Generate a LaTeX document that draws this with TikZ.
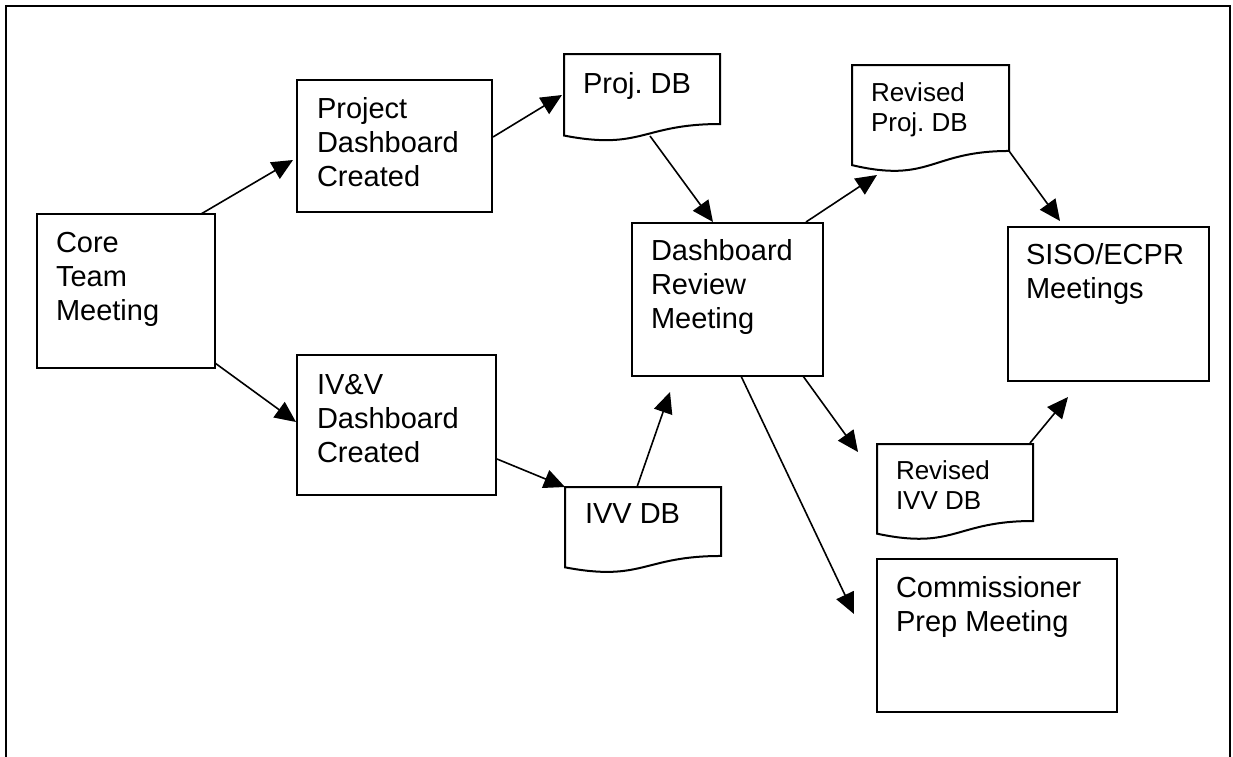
\documentclass[tikz,border=0pt]{standalone}
\usepackage{fontspec}
\setmainfont{Liberation Sans}
\usetikzlibrary{arrows.meta,calc}
\frenchspacing
\begin{document}
\begin{tikzpicture}[x=1pt,y=-1pt,
  box/.style={draw,line width=2pt,inner sep=0pt,outer sep=0pt,anchor=north west},
  docbox/.style={inner sep=0pt,outer sep=0pt,anchor=north west},
  docline/.style={draw,line width=2pt,fill=white,line join=miter},
  txt/.style={inner sep=0pt,outer sep=0pt,anchor=north west,align=left,font=\fontsize{29}{34}\selectfont},
  stxt/.style={inner sep=0pt,outer sep=0pt,anchor=north west,align=left,font=\fontsize{26}{30.5}\selectfont},
  arr/.style={line width=1.6pt,-{Triangle[length=21pt,width=19pt]}}]
\useasboundingbox (0,0) rectangle (1233,756);
% frame
\coordinate (fbl) at (6,760);
\coordinate (ftl) at (6,6);
\coordinate (ftr) at (1230,6);
\coordinate (fbr) at (1230,760);
\draw[line width=2pt] (fbl) -- (ftl) -- (ftr) -- (fbr);
\newcommand{\docpath}[1]{%
  \draw[docline] (#1.north west) -- (#1.north east)
    -- ($(#1.north east)!0.802!(#1.south east)$)
    .. controls ($(#1.north)!0.802!(#1.south)$) and ($(#1.north)!1.107!(#1.south)$)
    .. ($(#1.north west)!0.934!(#1.south west)$) -- cycle;}
% boxes
\node[box,minimum width=178pt,minimum height=154pt] (core) at (37,214) {};
\node[box,minimum width=195pt,minimum height=132pt] (proj) at (297,80) {};
\node[box,minimum width=199pt,minimum height=140pt] (ivv) at (297,355) {};
\node[box,minimum width=191pt,minimum height=153pt] (dash) at (632,223) {};
\node[box,minimum width=201pt,minimum height=154pt] (siso) at (1008,227) {};
\node[box,minimum width=240pt,minimum height=153pt] (comm) at (877,559) {};
% documents
\node[docbox,minimum width=156pt,minimum height=87.3pt] (projdb) at (564,54) {};
\node[docbox,minimum width=157pt,minimum height=107.2pt] (revproj) at (852,65) {};
\node[docbox,minimum width=156pt,minimum height=86pt] (ivvdb) at (565,487) {};
\node[docbox,minimum width=156pt,minimum height=96pt] (revivv) at (877,444) {};
\docpath{projdb}
\docpath{revproj}
\docpath{ivvdb}
\docpath{revivv}
% texts
\node[txt] (coreT) at (56,232) {Core\\Team\\Meeting};
\node[txt] (projT) at (317,97) {Project\\Dashboard\\Created};
\node[txt] (ivvT) at (317,374) {IV\&V\\Dashboard\\Created};
\node[txt] (dashT) at (651,239) {Dashboard\\Review\\Meeting};
\node[txt] (sisoT) at (1026,243) {SISO/ECPR\\Meetings};
\node[txt] (commT) at (896,576) {Commissioner\\Prep Meeting};
\node[txt] (projdbT) at (583,72) {Proj. DB};
\node[stxt] (revprojT) at (871,82.4) {Revised\\Proj. DB};
\node[txt] (ivvdbT) at (585,504) {IVV DB};
\node[stxt] (revivvT) at (896,460.4) {Revised\\IVV DB};
% connector end points
\coordinate (a1s) at (201,214);  \coordinate (a1e) at (293,160);
\coordinate (a2s) at (215,363);  \coordinate (a2e) at (296,422);
\coordinate (a3s) at (493,137);  \coordinate (a3e) at (562,95);
\coordinate (a4s) at (497,459);  \coordinate (a4e) at (565,487);
\coordinate (a5s) at (650,136);  \coordinate (a5e) at (713,222);
\coordinate (a6s) at (637,487);  \coordinate (a6e) at (670,392);
\coordinate (a7s) at (806,222);  \coordinate (a7e) at (877,175);
\coordinate (a8s) at (1009,151); \coordinate (a8e) at (1060,221);
\coordinate (a9s) at (803,376);  \coordinate (a9e) at (858,452);
\coordinate (a10s) at (741,376); \coordinate (a10e) at (854,614);
\coordinate (a11s) at (1030,443); \coordinate (a11e) at (1068,397);
\draw[arr] (a1s) -- (a1e);
\draw[arr] (a2s) -- (a2e);
\draw[arr] (a3s) -- (a3e);
\draw[arr] (a4s) -- (a4e);
\draw[arr] (a5s) -- (a5e);
\draw[arr] (a6s) -- (a6e);
\draw[arr] (a7s) -- (a7e);
\draw[arr] (a8s) -- (a8e);
\draw[arr] (a9s) -- (a9e);
\draw[arr] (a10s) -- (a10e);
\draw[arr] (a11s) -- (a11e);
\end{tikzpicture}
\end{document}
